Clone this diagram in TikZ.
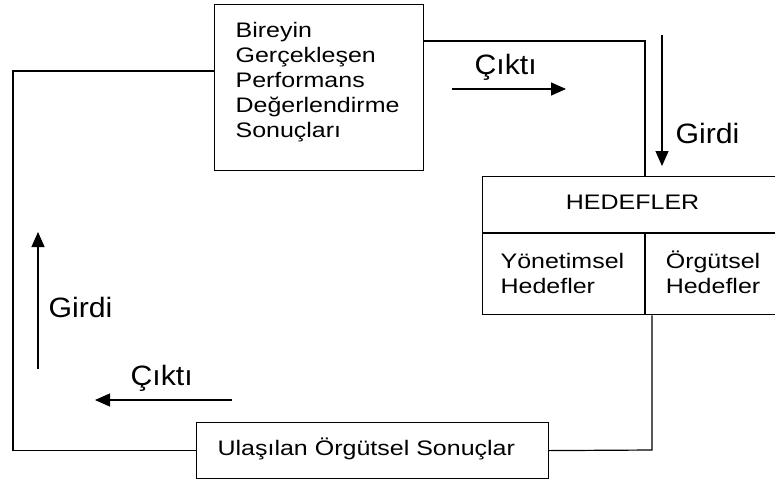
\documentclass[tikz,border=0pt]{standalone}
\usepackage{fontspec}
\setmainfont{Liberation Sans}[FakeStretch=1.19]
\newfontfamily\lblfont{Liberation Sans}[FakeStretch=1.08]
\usetikzlibrary{arrows.meta}

\begin{document}
\begin{tikzpicture}[x=1pt, y=-1pt, line width=1.2pt,
        box/.style={draw, anchor=north west, align=left, inner ysep=0pt, font=\fontsize{21}{25}\selectfont},
        flow/.style={-{Triangle[length=15pt, width=13pt]}},
        lbl/.style={anchor=base west, inner sep=0pt, font=\lblfont\fontsize{28}{33}\selectfont}]
        \useasboundingbox (0,0) rectangle (775,483);

        \node [box, inner xsep=21pt, text width=167pt, text height=33pt, text depth=133pt] (perf) at (214,4)
            {Bireyin\\Gerçekleşen\\Performans\\Değerlendirme\\Sonuçları};
        \node [box, align=center, inner xsep=0pt, text width=300pt, text height=33pt, text depth=23pt] (hedef) at (482,176) {HEDEFLER};
        \node [box, inner xsep=18pt, text width=126pt, text height=35pt, text depth=46pt] (yon) at (hedef.south west) {Yönetimsel\\Hedefler};
        \node [box, inner xsep=20pt, text width=98pt, text height=35pt, text depth=46pt] (org) at (yon.north east) {Örgütsel\\Hedefler};
        \node [box, inner xsep=21pt, text width=310pt, text height=33pt, text depth=23pt] (ulas) at (196,422) {Ulaşılan Örgütsel Sonuçlar};

        \coordinate (tl) at (13,71);
        \coordinate (tr) at (645,41);
        \coordinate (br) at (652,450);
        \draw (perf.west |- tl) -- (tl) |- (ulas.west);
        \draw (perf.east |- tr) -- (tr) -- (tr |- hedef.north);
        \draw (org.south -| br) -- (br) -- (ulas.east);

        \coordinate (c1a) at (452,89);
        \coordinate (c1b) at (566,89);
        \coordinate (g1a) at (662,35);
        \coordinate (g1b) at (662,166);
        \coordinate (g2a) at (38,369);
        \coordinate (g2b) at (38,232);
        \coordinate (c2a) at (232,400);
        \coordinate (c2b) at (95,400);
        \draw[flow] (c1a) -- (c1b);
        \draw[flow] (g1a) -- (g1b);
        \draw[flow] (g2a) -- (g2b);
        \draw[flow] (c2a) -- (c2b);

        \node [lbl] (cikti1) at (474,74) {Çıktı};
        \node [lbl] (girdi1) at (675,143) {Girdi};
        \node [lbl] (girdi2) at (48,317) {Girdi};
        \node [lbl] (cikti2) at (130,385) {Çıktı};
    \end{tikzpicture}
\end{document}
